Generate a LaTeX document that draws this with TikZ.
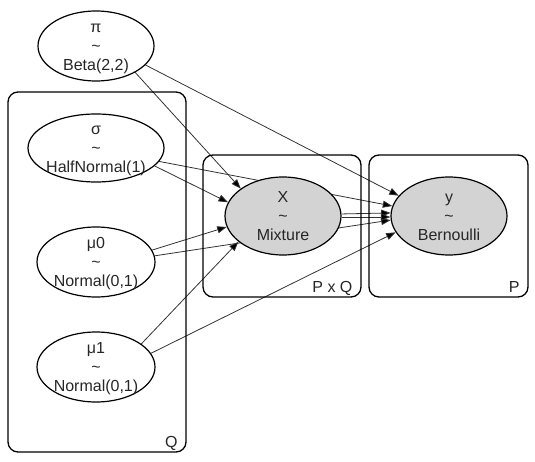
\documentclass[tikz,border=0pt]{standalone}
\usepackage{fontspec}
\setmainfont{Liberation Sans}
\usetikzlibrary{shapes.geometric,arrows.meta}
\pgfdeclarelayer{edgelayer}
\pgfsetlayers{edgelayer,main}
\definecolor{obsgray}{HTML}{D3D3D3}
\definecolor{inkc}{HTML}{262626}
\newcommand{\threeline}[3]{\makebox[0pt]{\raisebox{-24.7pt}[0pt][0pt]{\begin{tabular}[b]{@{}c@{}}#1\\#2\\#3\end{tabular}}}}
\begin{document}
\begin{tikzpicture}[x=1pt,y=-1pt,
  var/.style={ellipse, draw=black, line width=1.2pt, inner sep=0pt, text=inkc,
    font=\fontsize{16}{19}\selectfont},
  obs/.style={var, fill=obsgray},
  plate/.style={draw=black, rounded corners=10pt, line width=1.3pt, inner sep=0pt},
  platelab/.style={anchor=base east, inner sep=0pt, text=inkc,
    font=\fontsize{16}{19}\selectfont, xshift=-9pt, yshift=5.5pt},
  edge/.style={line width=0.8pt, draw=black!80, -{Triangle[length=9.5pt,width=7pt,fill=black]}}]
\useasboundingbox (0,0) rectangle (535,462);
% plates
\node[plate, minimum width=178pt, minimum height=360pt] (plQ) at (97,272) {};
\node[plate, minimum width=158pt, minimum height=142pt] (plPQ) at (282,226) {};
\node[plate, minimum width=159pt, minimum height=142pt] (plP) at (448.5,226) {};
\node[platelab] (labQ) at (plQ.south east) {Q};
\node[platelab] (labPQ) at (plPQ.south east) {P x Q};
\node[platelab] (labP) at (plP.south east) {P};
% variables
\node[var, minimum width=116pt, minimum height=70pt] (pi) at (96,46) {\threeline{π}{\textasciitilde}{Beta(2,2)}};
\node[var, minimum width=136pt, minimum height=68pt] (sigma) at (96,148) {\threeline{σ}{\textasciitilde}{HalfNormal(1)}};
\node[var, minimum width=118pt, minimum height=70pt] (mu0) at (96,262) {\threeline{μ0}{\textasciitilde}{Normal(0,1)}};
\node[var, minimum width=118pt, minimum height=70pt] (mu1) at (96,367) {\threeline{μ1}{\textasciitilde}{Normal(0,1)}};
\node[obs, minimum width=116pt, minimum height=78pt] (X) at (283,216) {\threeline{X}{\textasciitilde}{Mixture}};
\node[obs, minimum width=116pt, minimum height=78pt] (y) at (449,216) {\threeline{y}{\textasciitilde}{Bernoulli}};
% edges
\begin{pgfonlayer}{edgelayer}
\draw[edge] (pi.-34) -- (X.147);
\draw[edge] (pi.-21) -- (y.158);
\draw[edge] (sigma.-17) -- (X.166);
\draw[edge] (sigma.-12) -- (y.170);
\draw[edge] (mu0.12) -- (X.191);
\draw[edge] (mu0.6.5) -- (y.184);
\draw[edge] (mu1.27) -- (X.210);
\draw[edge] (mu1.14) -- (y.197);
\draw[edge] (X.2) -- (y.177);
\draw[edge] (X.-1.5) -- (y.181);
\end{pgfonlayer}
\end{tikzpicture}
\end{document}
